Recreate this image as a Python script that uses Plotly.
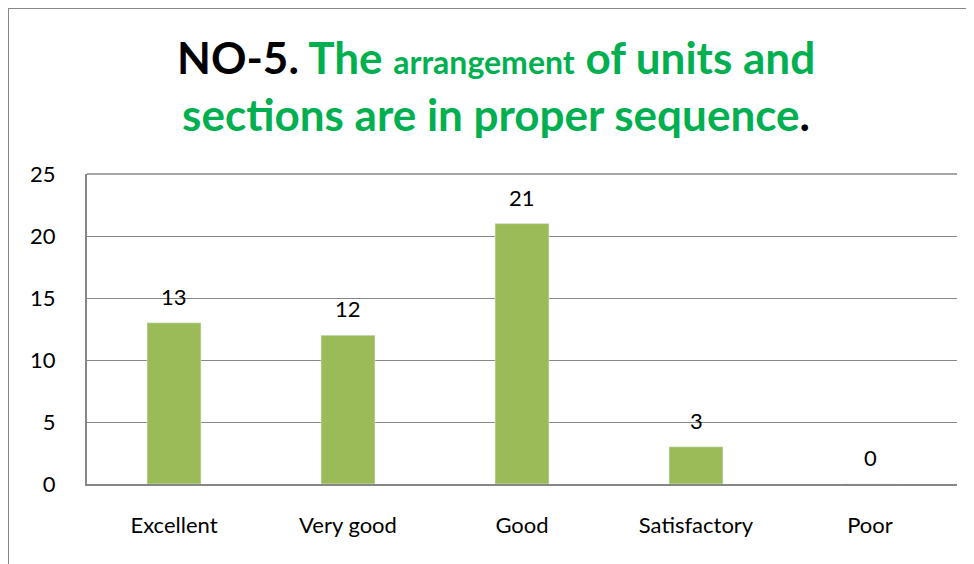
import plotly.graph_objects as go

categories = ["Excellent", "Very good", "Good", "Satisfactory", "Poor"]
values = [13, 12, 21, 3, 0]
y_ticks = [0, 5, 10, 15, 20, 25]

GREEN_T = "#00B050"
BAR = "#9BBB59"
GRAY = "#878787"

OFF = 8  # page body margin
W, H = 974, 564
L, R, T, B = 87 - OFF, 25, 174 - OFF, 88
pw, ph = W - L - R, H - T - B

def px(x):  # page pixel -> paper
    return (x - OFF - L) / pw

def py(y):
    return (H - B - (y - OFF)) / ph

fig = go.Figure()
fig.add_trace(go.Bar(x=categories, y=values, marker_color=BAR, width=0.31,
                     hoverinfo="skip"))

for c, v in zip(categories, values):
    fig.add_annotation(x=c, y=v, text=str(v), showarrow=False, yanchor="bottom",
                       yshift=11, font=dict(size=22, color="black", family="Lato"))

big, small = 44, 32
title = (f"<b><span style='color:black'>NO-5.</span> "
         f"<span style='color:{GREEN_T}'>The </span>"
         f"<span style='color:{GREEN_T};font-size:{small}px'>arrangement</span>"
         f"<span style='color:{GREEN_T}'> of units and</span><br>"
         f"<span style='color:{GREEN_T}'>sections are in proper sequence</span>"
         f"<span style='color:black'>.</span></b>")
fig.add_annotation(xref="paper", yref="paper", x=px(496), y=py(85), text=title,
                   showarrow=False, xanchor="center", yanchor="middle",
                   font=dict(size=big, family="Lato", color=GREEN_T))

# outer border lines
fig.add_shape(type="line", xref="paper", yref="paper", x0=px(8), x1=px(990),
              y0=py(8), y1=py(8), line=dict(color=GRAY, width=2))
fig.add_shape(type="line", xref="paper", yref="paper", x0=px(8), x1=px(8),
              y0=py(8), y1=py(580), line=dict(color=GRAY, width=2))

fig.update_layout(
    width=W, height=H, margin=dict(l=L, r=R, t=T, b=B),
    paper_bgcolor="white", plot_bgcolor="white", showlegend=False,
    font=dict(family="Lato", size=22, color="black"),
    xaxis=dict(showline=True, linecolor=GRAY, linewidth=2, ticks="",
               ticklabelstandoff=21, tickfont=dict(size=22), fixedrange=True),
    yaxis=dict(range=[0, 25], tickvals=y_ticks, showgrid=True, gridcolor=GRAY,
               gridwidth=1.3, showline=True, linecolor=GRAY, linewidth=2,
               ticks="", ticklabelstandoff=25, tickfont=dict(size=22),
               zeroline=False, fixedrange=True),
)
fig.add_shape(type="line", xref="paper", yref="paper", x0=0, x1=1, y0=1, y1=1,
              line=dict(color=GRAY, width=1.3))

fig.write_html("out.html")
